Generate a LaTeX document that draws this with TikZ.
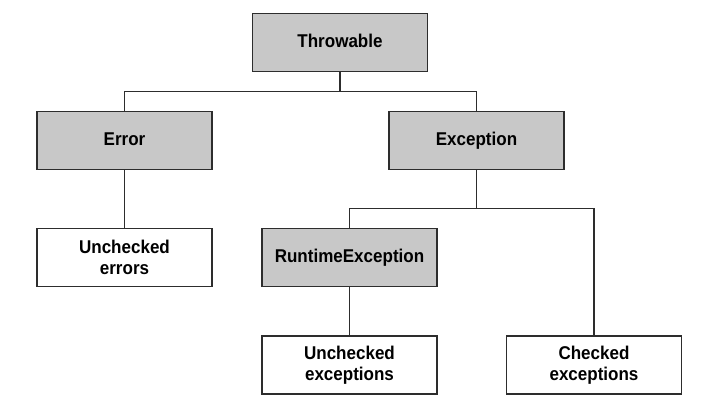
\documentclass[tikz,border=0pt]{standalone}
\usepackage{fontspec}
\setmainfont{Liberation Sans}
\newfontfamily\boxfont{Liberation Sans}[FakeStretch=0.92]
\definecolor{boxgray}{RGB}{200,200,200}
\definecolor{linegray}{RGB}{45,45,45}

\begin{document}
\begin{tikzpicture}[y=-1pt, x=1pt]
	\tikzstyle{every node}=[font=\boxfont\bfseries\fontsize{18.5}{20.5}\selectfont, align=center]
	\tikzstyle{class}=[draw=linegray, line width=1.3pt, minimum width=175pt, minimum height=58pt, inner sep=2pt]
	\tikzstyle{klass}=[class, fill=boxgray, text height=13pt, text depth=4pt]
	\tikzstyle{kind}=[class, fill=white]
	\useasboundingbox (0,0) rectangle (705,410);

	%classes
	\node[klass] (throwable) at (340,42.5) {Throwable};
	\node[klass] (error) at (124.5,140.5) {Error};
	\node[klass] (exception) at (476.5,140.5) {Exception};
	\node[klass] (runtime) at (349.5,257.5) {RuntimeException};

	%kinds
	\node[kind] (unchecked errors) at (124.5,257.5) {Unchecked\\errors};
	\node[kind] (unchecked exceptions) at (349.5,365) {Unchecked\\exceptions};
	\node[kind] (checked exceptions) at (594,365) {Checked\\exceptions};

	%links
	\coordinate (top bus) at (0,91.5);
	\coordinate (low bus) at (0,208.5);
	\begin{scope}[draw=linegray, line width=1.3pt]
		\draw (throwable.south) -- (throwable.south |- top bus) -| (error.north);
		\draw (throwable.south |- top bus) -| (exception.north);
		\draw (error.south) -- (unchecked errors.north);
		\draw (exception.south) -- (exception.south |- low bus) -| (runtime.north);
		\draw (exception.south |- low bus) -| (checked exceptions.north);
		\draw (runtime.south) -- (unchecked exceptions.north);
	\end{scope}
\end{tikzpicture}
\end{document}
